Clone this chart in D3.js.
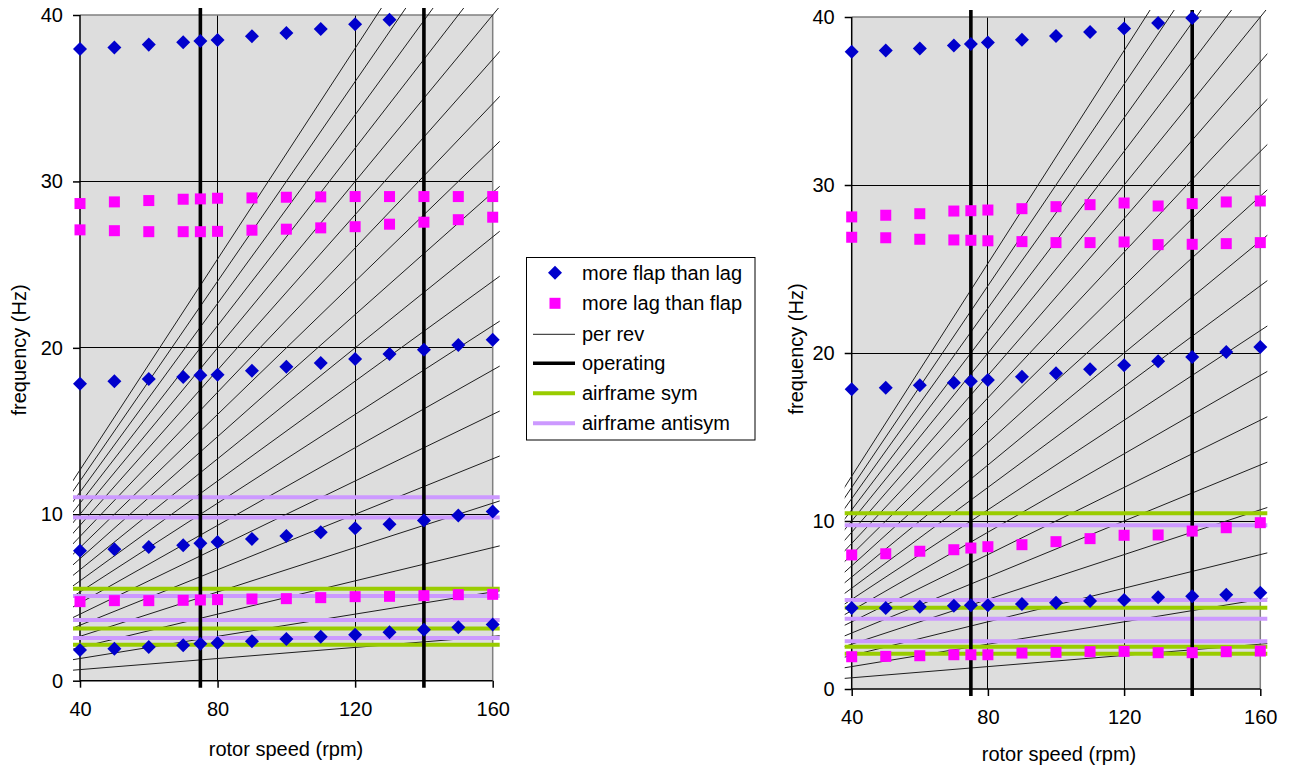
<!DOCTYPE html>
<html>
<head>
<meta charset="utf-8">
<script src="https://cdn.jsdelivr.net/npm/d3@7"></script>
<style>
  html, body { margin: 0; padding: 0; background: #ffffff; }
  svg { display: block; font-family: "Liberation Sans", Arial, sans-serif; }
</style>
</head>
<body>
<svg id="chart" width="1292" height="771"></svg>
<script>
// ---------------- DATA ----------------
const rpm = [40, 50, 60, 70, 75, 80, 90, 100, 110, 120, 130, 140, 150, 160];
const xTicks = [40, 80, 120, 160];
const yTicks = [0, 10, 20, 30, 40];
const perRevOrders = d3.range(1, 20);        // 1..19 per rev
const operatingRpm = [75, 140];

// left panel
const flapL1 = [1.84, 1.92, 2.03, 2.13, 2.22, 2.27, 2.37, 2.51, 2.64, 2.76, 2.91, 3.06, 3.21, 3.37];
const flapL2 = [7.81, 7.90, 8.03, 8.14, 8.26, 8.34, 8.52, 8.70, 8.92, 9.16, 9.40, 9.62, 9.92, 10.16];
const flapL3 = [17.85, 17.99, 18.13, 18.25, 18.35, 18.39, 18.63, 18.87, 19.09, 19.33, 19.63, 19.89, 20.17, 20.49];
const flapL4 = [37.96, 38.04, 38.22, 38.37, 38.44, 38.50, 38.73, 38.92, 39.16, 39.45, 39.72];
const lagL1 = [4.75, 4.81, 4.81, 4.83, 4.85, 4.87, 4.91, 4.93, 4.99, 5.05, 5.07, 5.11, 5.17, 5.19];
const lagL2 = [27.09, 27.04, 26.98, 26.98, 26.98, 27.00, 27.07, 27.13, 27.21, 27.28, 27.43, 27.55, 27.70, 27.85];
const lagL3 = [28.67, 28.77, 28.85, 28.93, 28.95, 28.99, 29.01, 29.05, 29.07, 29.09, 29.09, 29.09, 29.09, 29.09];
const symL = [5.53, 3.13, 2.16];
const antiL = [11.02, 9.80, 5.09, 3.65, 2.57];

// right panel
const flapR1 = [4.82, 4.82, 4.90, 4.96, 4.98, 4.98, 5.06, 5.14, 5.24, 5.30, 5.46, 5.52, 5.61, 5.73];
const flapR2 = [17.84, 17.93, 18.08, 18.23, 18.32, 18.39, 18.59, 18.79, 19.03, 19.27, 19.51, 19.76, 20.06, 20.36];
const flapR3 = [37.93, 38.01, 38.13, 38.30, 38.40, 38.48, 38.65, 38.87, 39.10, 39.32, 39.64, 39.94];
const lagR1 = [1.92, 1.94, 1.98, 2.04, 2.04, 2.04, 2.14, 2.18, 2.22, 2.24, 2.16, 2.16, 2.22, 2.26];
const lagR2 = [7.98, 8.05, 8.20, 8.29, 8.39, 8.47, 8.59, 8.77, 8.95, 9.15, 9.17, 9.40, 9.60, 9.90];
const lagR3 = [26.89, 26.86, 26.77, 26.73, 26.71, 26.68, 26.63, 26.57, 26.57, 26.61, 26.45, 26.47, 26.51, 26.57];
const lagR4 = [28.10, 28.20, 28.29, 28.45, 28.47, 28.51, 28.59, 28.71, 28.83, 28.93, 28.75, 28.89, 28.99, 29.05];
const symR = [10.46, 4.84, 2.52, 2.10];
const antiR = [9.74, 5.30, 4.18, 2.84];

const legendLabels = ["more flap than lag", "more lag than flap", "per rev", "operating", "airframe sym", "airframe antisym"];

// ---------------- STYLE ----------------
const C = {
  flap: "#0000cc", lag: "#ff00ff", perRev: "#1e1e1e", operating: "#000000",
  sym: "#99cc00", anti: "#cc99ff", bg: "#dddddd", grid: "#000000", border: "#808080"
};

const svg = d3.select("#chart");
const FONT = 20;
const DIAMOND = 125;
const SQ = 11;

function panel(cfg, idx) {
  const x = d3.scaleLinear().domain([40, 160]).range(cfg.xr);
  const y = d3.scaleLinear().domain([0, 40]).range(cfg.yr);
  const g = svg.append("g");
  const pad = 7;
  const clipId = "clip" + idx;
  svg.append("clipPath").attr("id", clipId).append("rect")
    .attr("x", cfg.xr[0] - pad).attr("y", cfg.yr[1] - pad)
    .attr("width", cfg.xr[1] - cfg.xr[0] + 2 * pad)
    .attr("height", cfg.yr[0] - cfg.yr[1] + 2 * pad);

  // background
  g.append("rect").attr("x", x(40)).attr("y", y(40))
    .attr("width", x(160) - x(40)).attr("height", y(0) - y(40)).attr("fill", C.bg);

  // gridlines
  g.selectAll(".hg").data(yTicks.filter(v => v > 0 && v < 40)).join("line")
    .attr("x1", x(40)).attr("x2", x(160)).attr("y1", d => y(d)).attr("y2", d => y(d))
    .attr("stroke", C.grid).attr("stroke-width", 1).attr("shape-rendering", "crispEdges");
  g.selectAll(".vg").data(xTicks.filter(v => v > 40 && v < 160)).join("line")
    .attr("x1", d => x(d)).attr("x2", d => x(d)).attr("y1", y(0)).attr("y2", y(40))
    .attr("stroke", C.grid).attr("stroke-width", 1).attr("shape-rendering", "crispEdges");
  // border top/right
  g.append("path").attr("d", `M${x(40)},${y(40)}H${x(160)}V${y(0)}`)
    .attr("fill", "none").attr("stroke", C.border).attr("stroke-width", 1.5);

  // axes
  const ya = d3.axisLeft(y).tickValues(yTicks).tickSize(7).tickPadding(10).tickFormat(d3.format("d"));
  const xa = d3.axisBottom(x).tickValues(xTicks).tickSize(7).tickPadding(14).tickFormat(d3.format("d"));
  const gy = g.append("g").attr("transform", `translate(${x(40)},0)`).call(ya);
  const gx = g.append("g").attr("transform", `translate(0,${y(0)})`).call(xa);
  [gy, gx].forEach(a => {
    a.select(".domain").attr("stroke", "#000").attr("stroke-width", 1.5);
    a.selectAll(".tick line").attr("stroke", "#000").attr("stroke-width", 1.5);
    a.selectAll("text").attr("font-size", FONT).attr("fill", "#000")
      .attr("font-family", "'Liberation Sans', Arial, sans-serif");
  });
  gy.select(".domain").attr("d", `M0,${y(0)}V${y(40)}`);
  gx.select(".domain").attr("d", `M${x(40)},0H${x(160)}`);
  gx.selectAll("text").attr("dy", "0.71em");

  // clipped content
  const c = g.append("g").attr("clip-path", `url(#${clipId})`);
  const line = d3.line().x(d => x(d[0])).y(d => y(d[1]));

  c.selectAll(".pr").data(perRevOrders).join("path")
    .attr("d", n => line([[0, 0], [220, n * 220 / 60]]))
    .attr("stroke", C.perRev).attr("stroke-width", 1).attr("fill", "none");

  c.selectAll(".sym").data(cfg.sym).join("line")
    .attr("x1", x(0)).attr("x2", x(220)).attr("y1", d => y(d)).attr("y2", d => y(d))
    .attr("stroke", C.sym).attr("stroke-width", 4);
  c.selectAll(".anti").data(cfg.anti).join("line")
    .attr("x1", x(0)).attr("x2", x(220)).attr("y1", d => y(d)).attr("y2", d => y(d))
    .attr("stroke", C.anti).attr("stroke-width", 4);

  c.selectAll(".op").data(operatingRpm).join("line")
    .attr("x1", d => x(d)).attr("x2", d => x(d)).attr("y1", y(-5)).attr("y2", y(45))
    .attr("stroke", C.operating).attr("stroke-width", 3.6);

  // markers
  const diamond = d3.symbol().type(d3.symbolDiamond2).size(DIAMOND);
  cfg.flap.forEach(series => {
    g.append("g").selectAll("path").data(series).join("path")
      .attr("d", diamond)
      .attr("transform", (d, i) => `translate(${x(rpm[i])},${y(d)})`)
      .attr("fill", C.flap);
  });
  cfg.lag.forEach(series => {
    g.append("g").selectAll("rect").data(series).join("rect")
      .attr("x", (d, i) => x(rpm[i]) - SQ / 2).attr("y", d => y(d) - SQ / 2)
      .attr("width", SQ).attr("height", SQ).attr("fill", C.lag);
  });

  // titles
  svg.append("text").attr("x", cfg.xTitle[0]).attr("y", cfg.xTitle[1])
    .attr("text-anchor", "middle").attr("font-size", FONT).text("rotor speed (rpm)");
  svg.append("text").attr("transform", `translate(${cfg.yTitle[0]},${cfg.yTitle[1]}) rotate(-90)`)
    .attr("text-anchor", "middle").attr("dominant-baseline", "central")
    .attr("font-size", FONT).text("frequency (Hz)");
}

panel({
  xr: [80, 492.7], yr: [680.7, 15],
  flap: [flapL1, flapL2, flapL3, flapL4], lag: [lagL1, lagL2, lagL3],
  sym: symL, anti: antiL,
  xTitle: [286, 756], yTitle: [19, 350]
}, 0);

panel({
  xr: [851.7, 1260.3], yr: [689, 17],
  flap: [flapR1, flapR2, flapR3], lag: [lagR1, lagR2, lagR3, lagR4],
  sym: symR, anti: antiR,
  xTitle: [1059, 761], yTitle: [796, 349]
}, 1);

// ---------------- LEGEND ----------------
const lg = svg.append("g");
lg.append("rect").attr("x", 526.5).attr("y", 257.5).attr("width", 228.5).attr("height", 182.5)
  .attr("fill", "#fff").attr("stroke", "#000").attr("stroke-width", 1);
const rowY = [272.7, 303.3, 334.3, 363.3, 393.3, 423.3];
const kinds = ["diamond", "square", "perRev", "operating", "sym", "anti"];
kinds.forEach((k, i) => {
  const yy = rowY[i];
  if (k === "diamond") {
    lg.append("path").attr("d", d3.symbol().type(d3.symbolDiamond2).size(DIAMOND)())
      .attr("transform", `translate(555,${yy})`).attr("fill", C.flap);
  } else if (k === "square") {
    lg.append("rect").attr("x", 555 - SQ / 2).attr("y", yy - SQ / 2).attr("width", SQ).attr("height", SQ).attr("fill", C.lag);
  } else {
    const st = { perRev: [C.perRev, 1], operating: [C.operating, 3.6], sym: [C.sym, 4], anti: [C.anti, 4] }[k];
    lg.append("line").attr("x1", 533).attr("x2", 575).attr("y1", yy).attr("y2", yy)
      .attr("stroke", st[0]).attr("stroke-width", st[1]);
  }
  lg.append("text").attr("x", 582).attr("y", yy).attr("dominant-baseline", "central")
    .attr("font-size", FONT).attr("fill", "#000").text(legendLabels[i]);
});
</script>
</body>
</html>
